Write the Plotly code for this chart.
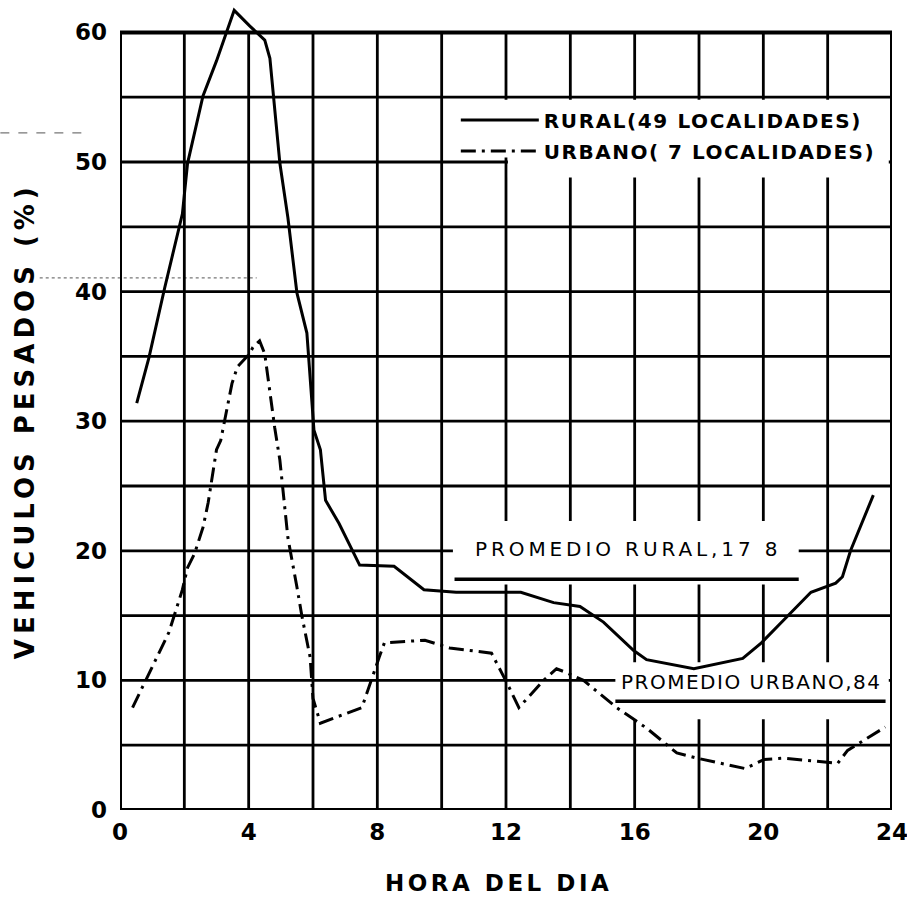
import plotly.graph_objects as go

# Share of heavy vehicles (%) by hour of day
hour_rural = [0.52, 0.90, 1.39, 1.94, 2.10, 2.58, 3.00, 3.55, 4.03, 4.50, 4.66, 4.81, 4.97,
              5.22, 5.50, 5.81, 6.03, 6.23, 6.39, 6.81, 7.35, 7.45, 8.52, 9.45, 10.45,
              12.46, 13.48, 14.30, 15.03, 15.97, 16.37, 17.84, 19.36, 19.94, 20.65,
              21.48, 22.25, 22.46, 22.71, 23.42]
pct_rural = [31.4, 34.9, 40.3, 46.0, 49.9, 55.1, 57.8, 61.7, 60.5, 59.4, 58.0, 54.2, 49.9,
             45.7, 39.9, 36.8, 29.3, 27.8, 23.9, 22.1, 19.5, 18.9, 18.8, 17.0, 16.8,
             16.8, 16.0, 15.7, 14.5, 12.3, 11.6, 10.9, 11.7, 12.9, 14.7,
             16.8, 17.5, 18.0, 20.0, 24.3]

hour_urban = [0.39, 1.52, 1.94, 2.10, 2.32, 2.58, 2.74, 2.84, 3.00, 3.13, 3.48, 3.65, 4.03,
              4.13, 4.34, 4.50, 4.81, 4.97, 5.22, 5.50, 5.66, 5.91, 6.00, 6.23, 7.52,
              8.06, 8.22, 9.48, 10.25, 11.55, 12.03, 12.40, 13.17, 13.57, 13.88, 14.41,
              15.44, 16.03, 16.38, 17.31, 17.94, 19.43, 20.03, 20.65, 22.31, 22.62, 23.79]
pct_urban = [7.9, 13.7, 17.0, 18.7, 19.8, 21.8, 23.7, 25.2, 27.8, 28.5, 32.9, 34.2, 35.2,
             35.7, 36.2, 35.2, 29.5, 27.0, 21.0, 17.2, 14.9, 11.8, 8.6, 6.7, 7.9,
             11.8, 12.9, 13.1, 12.5, 12.1, 9.8, 7.9, 10.0, 10.9, 10.6, 10.0,
             7.9, 6.9, 6.3, 4.4, 4.0, 3.2, 3.9, 4.0, 3.6, 4.6, 6.4]

avg_rural = 17.8
avg_urban = 8.4

name_rural = "RURAL(49 LOCALIDADES)"
name_urban = "URBANO( 7 LOCALIDADES)"
label_rural = "PROMEDIO RURAL,17 8"
label_urban = "PROMEDIO URBANO,84"

x_grid = list(range(0, 25, 2))
y_grid = list(range(0, 61, 5))
x_ticks = [0, 4, 8, 12, 16, 20, 24]
y_ticks = [0, 10, 20, 30, 40, 50, 60]

FONT = "DejaVu Sans"
INK = "black"


def spaced(text, px):
    return f'<span style="letter-spacing:{px}px">{text}</span>'


fig = go.Figure()
fig.add_trace(go.Scatter(
    x=hour_rural, y=pct_rural, mode="lines", name=spaced(name_rural, 1.6),
    legendgroup="rural", line=dict(color=INK, width=3)))
fig.add_trace(go.Scatter(
    x=hour_urban, y=pct_urban, mode="lines", name=spaced(name_urban, 1.5),
    legendgroup="urban", line=dict(color=INK, width=3, dash="15px,6px,3px,6px")))

shapes = []
# grid
for xv in x_grid[1:-1]:
    shapes.append(dict(type="line", xref="x", yref="y", x0=xv, x1=xv, y0=y_grid[0], y1=y_grid[-1],
                       line=dict(color=INK, width=2.8), layer="below"))
for yv in y_grid[1:-1]:
    shapes.append(dict(type="line", xref="x", yref="y", x0=x_grid[0], x1=x_grid[-1], y0=yv, y1=yv,
                       line=dict(color=INK, width=2.8), layer="below"))

# cleared areas behind the key and the average labels
blank = dict(type="rect", xref="x", yref="y", fillcolor="white", line=dict(width=0), layer="below")
shapes.append({**blank, "x0": 10.3, "x1": 23.9, "y0": 50.35, "y1": 54.8})
shapes.append({**blank, "x0": 12.06, "x1": 23.9, "y0": 48.8, "y1": 50.35})
shapes.append({**blank, "x0": 10.35, "x1": 21.1, "y0": 17.4, "y1": 22.3})
shapes.append({**blank, "x0": 15.4, "x1": 23.9, "y0": 7.0, "y1": 11.4})

# average markers
shapes.append(dict(type="line", xref="x", yref="y", x0=10.4, x1=21.1, y0=avg_rural, y1=avg_rural,
                   line=dict(color=INK, width=3.5), layer="below"))
shapes.append(dict(type="line", xref="x", yref="y", x0=15.4, x1=23.8, y0=avg_urban, y1=avg_urban,
                   line=dict(color=INK, width=3.5), layer="below"))

# frame
shapes.append(dict(type="rect", xref="x", yref="y", x0=x_grid[0], x1=x_grid[-1],
                   y0=y_grid[0], y1=y_grid[-1], line=dict(color=INK, width=4), layer="below"))

# faint dotted marks
shapes.append(dict(type="line", xref="paper", yref="paper", x0=-0.104, x1=0.177, y0=0.657, y1=0.657,
                   line=dict(color="#777", width=1.2, dash="dot"), layer="below"))
shapes.append(dict(type="line", xref="paper", yref="paper", x0=-0.155, x1=-0.05, y0=0.836, y1=0.836,
                   line=dict(color="#777", width=1.2, dash="dash"), layer="below"))

annotations = [
    dict(x=10.97, y=20.15, xref="x", yref="y", xanchor="left", yanchor="middle", showarrow=False,
         text=spaced(label_rural, 3.9), font=dict(family=FONT, size=20, color=INK)),
    dict(x=15.5, y=9.9, xref="x", yref="y", xanchor="left", yanchor="middle", showarrow=False,
         text=spaced(label_urban, 1.5), font=dict(family=FONT, size=20, color=INK)),
    dict(x=-0.123, y=0.48, xref="paper", yref="paper", xanchor="center", yanchor="middle",
         showarrow=False, textangle=-90, text=spaced("VEHICULOS PESADOS (%)", 5),
         font=dict(family=FONT, size=26, color=INK, weight="bold")),
    dict(x=0.49, y=-0.09, xref="paper", yref="paper", xanchor="center", yanchor="middle",
         showarrow=False, text=spaced("HORA DEL DIA", 3.5),
         font=dict(family=FONT, size=23, color=INK, weight="bold")),
]

fig.update_layout(
    width=907, height=897,
    margin=dict(l=120, r=15, t=0, b=87),
    paper_bgcolor="white", plot_bgcolor="white",
    shapes=shapes, annotations=annotations,
    showlegend=True,
    legend=dict(x=0.435, xanchor="left", y=0.876, yanchor="top", bgcolor="rgba(0,0,0,0)",
                borderwidth=0, itemwidth=78, tracegroupgap=2, traceorder="grouped",
                font=dict(family=FONT, size=20, color=INK, weight="bold")),
    xaxis=dict(range=[0, 24], showgrid=False, zeroline=False, showline=False,
               tickvals=x_ticks, ticks="", ticklabelstandoff=6, ticklabeloverflow="allow",
               tickfont=dict(family=FONT, size=23, color=INK, weight="bold")),
    yaxis=dict(range=[0, 62.5], showgrid=False, zeroline=False, showline=False,
               tickvals=y_ticks, ticks="", ticklabelstandoff=12, ticklabeloverflow="allow",
               tickfont=dict(family=FONT, size=23, color=INK, weight="bold")),
)

fig.write_html("out.html")
